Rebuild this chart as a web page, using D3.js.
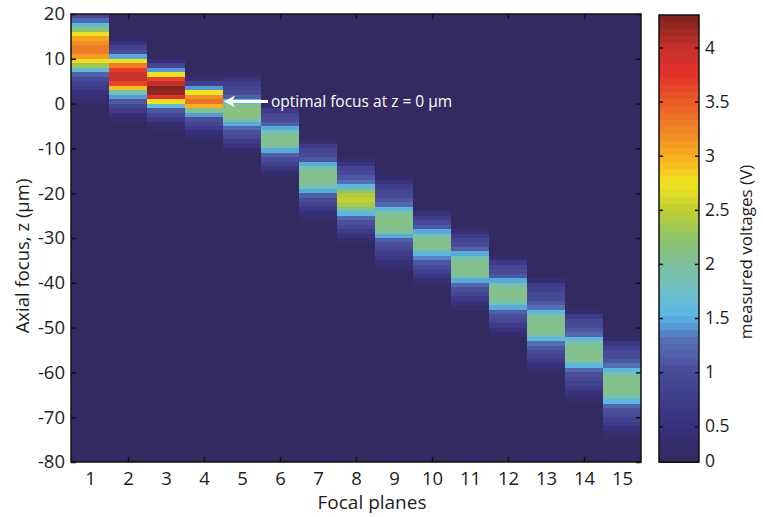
<!DOCTYPE html>
<html>
<head>
<meta charset="utf-8">
<script src="https://cdn.jsdelivr.net/npm/d3@7"></script>
<style>
  body { margin: 0; background: #fff; }
  text { font-family: "Open Sans", sans-serif; fill: #1e1c1d; }
</style>
</head>
<body>
<svg id="chart" width="763" height="517"></svg>
<script>
// focal planes (columns) and z axis
var planes = d3.range(1, 16);
var yTicks = [20, 10, 0, -10, -20, -30, -40, -50, -60, -70, -80];
var xMarkTicks = [2, 4, 6, 8, 10, 12, 14];
var cbarTicks = [0.5, 1, 1.5, 2, 2.5, 3, 3.5, 4];
var background = 0.2;

// z of the top edge of the first 1 um cell of each plane
var zTop = [20, 14, 10, 6, 7, 0, -8, -12, -16, -24, -28, -34, -39, -46, -52];

// measured voltages, one value per 1 um step going down from zTop
var voltages = [
  [1.0, 1.25, 1.55, 2.2, 2.75, 3.05, 3.2, 3.3, 3.3, 3.1, 2.8, 2.3, 1.6, 1.2, 1.0, 0.85, 0.7, 0.55, 0.4, 0.3],
  [0.5, 0.85, 1.05, 1.5, 2.7, 3.3, 3.7, 3.95, 3.95, 3.6, 2.9, 1.9, 1.4, 1.1, 0.9, 0.7, 0.45, 0.3],
  [0.45, 0.9, 1.45, 2.7, 3.6, 4.0, 4.25, 4.2, 3.8, 2.8, 1.6, 1.1, 0.9, 0.65, 0.4, 0.25],
  [0.4, 0.85, 1.45, 2.7, 3.2, 3.35, 3.0, 2.1, 1.45, 1.05, 0.9, 0.7, 0.45, 0.3],
  [0.35, 0.6, 0.8, 0.9, 1.0, 1.2, 1.6, 2.1, 2.15, 2.15, 2.0, 1.5, 1.25, 1.05, 0.9, 0.7, 0.5, 0.3],
  [0.35, 0.7, 0.9, 1.0, 1.15, 1.5, 1.9, 2.05, 2.1, 2.0, 1.5, 1.2, 1.0, 0.85, 0.6, 0.35],
  [0.4, 0.75, 0.9, 1.0, 1.1, 1.5, 1.95, 2.1, 2.1, 2.1, 1.9, 1.5, 1.2, 1.0, 0.85, 0.65, 0.45, 0.3],
  [0.3, 0.6, 0.9, 1.0, 1.1, 1.3, 1.55, 2.2, 2.45, 2.5, 2.4, 2.1, 1.55, 1.25, 1.05, 0.9, 0.75, 0.5, 0.3],
  [0.3, 0.6, 0.8, 0.9, 1.0, 1.1, 1.25, 1.55, 2.0, 2.1, 2.15, 2.1, 2.0, 1.5, 1.2, 1.05, 0.9, 0.8, 0.65, 0.45, 0.3],
  [0.45, 0.8, 0.95, 1.1, 1.5, 1.9, 2.1, 2.1, 2.05, 1.55, 1.35, 1.1, 0.95, 0.85, 0.65, 0.4, 0.25],
  [0.4, 0.75, 0.9, 1.0, 1.15, 1.5, 1.9, 2.1, 2.1, 2.1, 2.0, 1.5, 1.25, 1.05, 0.9, 0.75, 0.55, 0.35],
  [0.35, 0.7, 0.9, 1.0, 1.1, 1.5, 1.9, 2.1, 2.1, 2.05, 1.9, 1.5, 1.2, 1.05, 0.9, 0.75, 0.55, 0.35],
  [0.4, 0.7, 0.85, 0.95, 1.0, 1.1, 1.3, 1.55, 2.0, 2.1, 2.1, 2.1, 2.0, 1.55, 1.3, 1.1, 0.95, 0.85, 0.7, 0.5, 0.3],
  [0.35, 0.7, 0.9, 1.0, 1.1, 1.25, 1.55, 2.0, 2.1, 2.1, 2.1, 2.0, 1.55, 1.25, 1.05, 0.95, 0.85, 0.7, 0.55, 0.4, 0.25],
  [0.35, 0.65, 0.85, 0.95, 1.0, 1.1, 1.3, 1.55, 1.95, 2.1, 2.1, 2.1, 2.05, 1.9, 1.55, 1.25, 1.05, 0.95, 0.85, 0.7, 0.55, 0.4, 0.25]
];

// jet-like colormap as printed
var cmapStops = [0.17, 0.5, 0.8, 1.05, 1.3, 1.45, 1.55, 1.75, 2.0, 2.25, 2.5, 2.75, 3.0, 3.25, 3.5, 3.75, 4.0, 4.3];
var cmapColors = ["#33295f", "#38307a", "#403e8c", "#4a4f9c", "#5470b5", "#57a0d8", "#5bb8e2", "#6fbfc8",
                  "#7cc09c", "#90c468", "#bfcd32", "#f2e420", "#f6ad1f", "#ef8326", "#e95b27", "#e2322a",
                  "#c62f2a", "#7a211e"];
var vMin = 0.17, vMax = 4.3, nLevels = 64;

var cmap = d3.scaleLinear().domain(cmapStops).range(cmapColors).clamp(true);
function colorOf(v) {
  var k = Math.floor((v - vMin) / (vMax - vMin) * nLevels);
  k = Math.max(0, Math.min(nLevels - 1, k));
  return cmap(vMin + (k + 0.5) / nLevels * (vMax - vMin));
}

var svg = d3.select("#chart");

var x = d3.scaleLinear().domain([0.5, 15.5]).range([71, 641]);
var y = d3.scaleLinear().domain([-80, 20]).range([462, 14]);

// heatmap
var plot = svg.append("g").attr("shape-rendering", "crispEdges");
plot.append("rect")
  .attr("x", x(0.5)).attr("y", y(20))
  .attr("width", x(15.5) - x(0.5)).attr("height", y(-80) - y(20))
  .attr("fill", colorOf(background));

var cells = [];
voltages.forEach(function (col, i) {
  col.forEach(function (v, j) {
    cells.push({ plane: planes[i], z: zTop[i] - j, v: v });
  });
});

plot.selectAll("rect.cell").data(cells).enter().append("rect")
  .attr("class", "cell")
  .attr("x", function (d) { return x(d.plane - 0.5); })
  .attr("width", x(1.5) - x(0.5))
  .attr("y", function (d) { return y(d.z); })
  .attr("height", function (d) { return y(d.z - 1) - y(d.z) + 0.5; })
  .attr("fill", function (d) { return colorOf(d.v); });

// axes
var fmt = function (d) { return String(d); };
var left = svg.append("g").attr("transform", "translate(71,0)")
  .call(d3.axisLeft(y).tickValues(yTicks).tickSize(-5).tickPadding(6).tickFormat(fmt));
var right = svg.append("g").attr("transform", "translate(641,0)")
  .call(d3.axisRight(y).tickValues(yTicks).tickSize(-5).tickFormat(""));
var bottomLabels = svg.append("g").attr("transform", "translate(0,462)")
  .call(d3.axisBottom(x).tickValues(planes).tickSize(0).tickPadding(10).tickFormat(fmt));
var bottomMarks = svg.append("g").attr("transform", "translate(0,462)")
  .call(d3.axisBottom(x).tickValues(xMarkTicks).tickSize(-5).tickFormat(""));
var topMarks = svg.append("g").attr("transform", "translate(0,14)")
  .call(d3.axisTop(x).tickValues(xMarkTicks).tickSize(-5).tickFormat(""));

[left, right, bottomLabels, bottomMarks, topMarks].forEach(function (g) {
  g.select(".domain").remove();
  g.selectAll("line").attr("stroke", "#111").attr("stroke-width", 1.5);
  g.selectAll("text").style("font-size", "18.5px").attr("fill", "#1e1c1d");
});

svg.append("rect")
  .attr("x", x(0.5)).attr("y", y(20))
  .attr("width", x(15.5) - x(0.5)).attr("height", y(-80) - y(20))
  .attr("fill", "none").attr("stroke", "#111").attr("stroke-width", 1.5);

// axis titles
svg.append("text")
  .attr("transform", "translate(29,256) rotate(-90)")
  .attr("text-anchor", "middle")
  .style("font-size", "18.5px")
  .text("Axial focus, z (µm)");

svg.append("text")
  .attr("x", 372).attr("y", 509)
  .attr("text-anchor", "middle")
  .style("font-size", "19px")
  .text("Focal planes");

// annotation
var ay = y(0) - 2;
svg.append("line")
  .attr("x1", x(4.5) + 8).attr("x2", 268)
  .attr("y1", ay).attr("y2", ay)
  .attr("stroke", "#fff").attr("stroke-width", 3);
svg.append("path")
  .attr("d", "M" + (x(4.5) + 1) + "," + ay + " l11,-6 l-3,6 l3,6 z")
  .attr("fill", "#fff");
svg.append("text")
  .attr("x", 271).attr("y", ay + 5)
  .style("font-size", "15.5px")
  .style("fill", "#fff")
  .text("optimal focus at z = 0 µm");

// colorbar
var cb = d3.scaleLinear().domain([vMin, vMax]).range([462, 15]);
var levels = d3.range(nLevels);
var step = (vMax - vMin) / nLevels;
var cbar = svg.append("g").attr("shape-rendering", "crispEdges");
cbar.selectAll("rect").data(levels).enter().append("rect")
  .attr("x", 659).attr("width", 40)
  .attr("y", function (k) { return cb(vMin + (k + 1) * step); })
  .attr("height", function (k) { return cb(vMin + k * step) - cb(vMin + (k + 1) * step) + 0.5; })
  .attr("fill", function (k) { return colorOf(vMin + (k + 0.5) * step); });

var cbLeft = svg.append("g").attr("transform", "translate(659,0)")
  .call(d3.axisLeft(cb).tickValues(cbarTicks).tickSize(-4).tickFormat(""));
var cbRight = svg.append("g").attr("transform", "translate(699,0)")
  .call(d3.axisRight(cb).tickValues(cbarTicks).tickSize(-4).tickPadding(6).tickFormat(fmt));
[cbLeft, cbRight].forEach(function (g) {
  g.select(".domain").remove();
  g.selectAll("line").attr("stroke", "#111").attr("stroke-width", 1.5);
  g.selectAll("text").style("font-size", "17.5px").attr("fill", "#1e1c1d");
});
svg.append("text")
  .attr("x", 705).attr("y", cb(vMin) + 5)
  .style("font-size", "17.5px")
  .text("0");

svg.append("rect")
  .attr("x", 659).attr("y", 15).attr("width", 40).attr("height", 447)
  .attr("fill", "none").attr("stroke", "#111").attr("stroke-width", 1.5);

svg.append("text")
  .attr("transform", "translate(752,252) rotate(-90)")
  .attr("text-anchor", "middle")
  .style("font-size", "17px")
  .text("measured voltages (V)");
</script>
</body>
</html>
